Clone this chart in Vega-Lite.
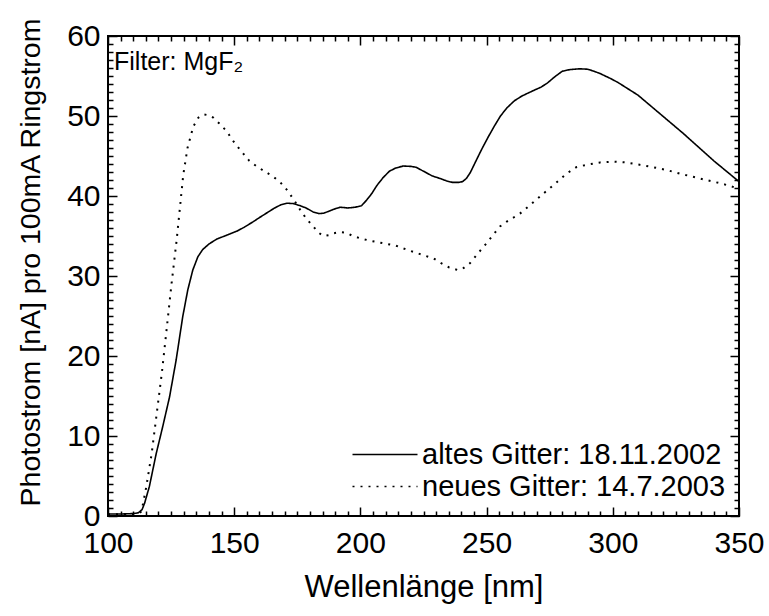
{
  "$schema": "https://vega.github.io/schema/vega-lite/v6.json",
  "autosize": "none",
  "padding": {"left": 108, "top": 36, "right": 30, "bottom": 100},
  "width": 631,
  "height": 480,
  "background": "white",
  "config": {
    "view": {"stroke": "black", "strokeWidth": 2},
    "font": "Liberation Sans",
    "axis": {"grid": false, "domain": false, "ticks": true, "tickColor": "black", "tickWidth": 1.5, "tickSize": 0, "labelColor": "black", "titleColor": "black", "labelFont": "Liberation Sans", "titleFont": "Liberation Sans", "titleFontWeight": "normal", "labelOverlap": false, "labelBound": false, "labelFlush": false},
    "legend": {"labelFont": "Liberation Sans"}
  },
  "title": {"text": "Filter: MgF₂", "anchor": "start", "orient": "top", "frame": "group", "offset": 0, "dx": 6, "dy": 78, "fontSize": 25, "fontWeight": "normal", "font": "Liberation Sans", "color": "black", "baseline": "alphabetic"},
  "data": {"values": [
    {"s": "altes Gitter: 18.11.2002", "x": 100, "y": 0.25},
    {"s": "altes Gitter: 18.11.2002", "x": 105, "y": 0.25},
    {"s": "altes Gitter: 18.11.2002", "x": 110, "y": 0.3},
    {"s": "altes Gitter: 18.11.2002", "x": 112, "y": 0.4},
    {"s": "altes Gitter: 18.11.2002", "x": 113.5, "y": 0.8},
    {"s": "altes Gitter: 18.11.2002", "x": 114.5, "y": 1.6},
    {"s": "altes Gitter: 18.11.2002", "x": 116.4, "y": 3.7},
    {"s": "altes Gitter: 18.11.2002", "x": 119.1, "y": 7.8},
    {"s": "altes Gitter: 18.11.2002", "x": 121.7, "y": 11.2},
    {"s": "altes Gitter: 18.11.2002", "x": 124.4, "y": 14.9},
    {"s": "altes Gitter: 18.11.2002", "x": 127, "y": 19.5},
    {"s": "altes Gitter: 18.11.2002", "x": 129.6, "y": 24.9},
    {"s": "altes Gitter: 18.11.2002", "x": 131.6, "y": 28.25},
    {"s": "altes Gitter: 18.11.2002", "x": 133.6, "y": 30.75},
    {"s": "altes Gitter: 18.11.2002", "x": 135.6, "y": 32.4},
    {"s": "altes Gitter: 18.11.2002", "x": 137.5, "y": 33.3},
    {"s": "altes Gitter: 18.11.2002", "x": 140, "y": 34},
    {"s": "altes Gitter: 18.11.2002", "x": 143, "y": 34.6},
    {"s": "altes Gitter: 18.11.2002", "x": 147, "y": 35.1},
    {"s": "altes Gitter: 18.11.2002", "x": 151, "y": 35.6},
    {"s": "altes Gitter: 18.11.2002", "x": 154, "y": 36.1},
    {"s": "altes Gitter: 18.11.2002", "x": 157.6, "y": 36.8},
    {"s": "altes Gitter: 18.11.2002", "x": 160, "y": 37.3},
    {"s": "altes Gitter: 18.11.2002", "x": 163, "y": 37.9},
    {"s": "altes Gitter: 18.11.2002", "x": 166, "y": 38.5},
    {"s": "altes Gitter: 18.11.2002", "x": 168.5, "y": 38.9},
    {"s": "altes Gitter: 18.11.2002", "x": 171, "y": 39.1},
    {"s": "altes Gitter: 18.11.2002", "x": 173.5, "y": 39.05},
    {"s": "altes Gitter: 18.11.2002", "x": 176, "y": 38.8},
    {"s": "altes Gitter: 18.11.2002", "x": 178.5, "y": 38.5},
    {"s": "altes Gitter: 18.11.2002", "x": 181.3, "y": 38.0},
    {"s": "altes Gitter: 18.11.2002", "x": 183.5, "y": 37.8},
    {"s": "altes Gitter: 18.11.2002", "x": 185.5, "y": 37.85},
    {"s": "altes Gitter: 18.11.2002", "x": 187.5, "y": 38.1},
    {"s": "altes Gitter: 18.11.2002", "x": 189.5, "y": 38.35},
    {"s": "altes Gitter: 18.11.2002", "x": 192, "y": 38.6},
    {"s": "altes Gitter: 18.11.2002", "x": 195, "y": 38.5},
    {"s": "altes Gitter: 18.11.2002", "x": 198, "y": 38.6},
    {"s": "altes Gitter: 18.11.2002", "x": 200.5, "y": 38.8},
    {"s": "altes Gitter: 18.11.2002", "x": 202.5, "y": 39.5},
    {"s": "altes Gitter: 18.11.2002", "x": 204.5, "y": 40.3},
    {"s": "altes Gitter: 18.11.2002", "x": 206.5, "y": 41.3},
    {"s": "altes Gitter: 18.11.2002", "x": 209, "y": 42.3},
    {"s": "altes Gitter: 18.11.2002", "x": 211.5, "y": 43.1},
    {"s": "altes Gitter: 18.11.2002", "x": 214, "y": 43.5},
    {"s": "altes Gitter: 18.11.2002", "x": 217, "y": 43.75},
    {"s": "altes Gitter: 18.11.2002", "x": 220, "y": 43.7},
    {"s": "altes Gitter: 18.11.2002", "x": 222, "y": 43.6},
    {"s": "altes Gitter: 18.11.2002", "x": 225, "y": 43.1},
    {"s": "altes Gitter: 18.11.2002", "x": 228.5, "y": 42.5},
    {"s": "altes Gitter: 18.11.2002", "x": 231.5, "y": 42.2},
    {"s": "altes Gitter: 18.11.2002", "x": 234, "y": 41.9},
    {"s": "altes Gitter: 18.11.2002", "x": 236.5, "y": 41.7},
    {"s": "altes Gitter: 18.11.2002", "x": 239, "y": 41.7},
    {"s": "altes Gitter: 18.11.2002", "x": 240.5, "y": 41.8},
    {"s": "altes Gitter: 18.11.2002", "x": 242, "y": 42.2},
    {"s": "altes Gitter: 18.11.2002", "x": 243.5, "y": 42.9},
    {"s": "altes Gitter: 18.11.2002", "x": 245.5, "y": 44.2},
    {"s": "altes Gitter: 18.11.2002", "x": 248, "y": 45.8},
    {"s": "altes Gitter: 18.11.2002", "x": 250.5, "y": 47.3},
    {"s": "altes Gitter: 18.11.2002", "x": 253, "y": 48.7},
    {"s": "altes Gitter: 18.11.2002", "x": 255.5, "y": 50.0},
    {"s": "altes Gitter: 18.11.2002", "x": 258, "y": 51.0},
    {"s": "altes Gitter: 18.11.2002", "x": 261, "y": 51.9},
    {"s": "altes Gitter: 18.11.2002", "x": 264, "y": 52.5},
    {"s": "altes Gitter: 18.11.2002", "x": 268, "y": 53.1},
    {"s": "altes Gitter: 18.11.2002", "x": 271.5, "y": 53.6},
    {"s": "altes Gitter: 18.11.2002", "x": 274, "y": 54.1},
    {"s": "altes Gitter: 18.11.2002", "x": 277, "y": 54.9},
    {"s": "altes Gitter: 18.11.2002", "x": 280, "y": 55.6},
    {"s": "altes Gitter: 18.11.2002", "x": 283, "y": 55.8},
    {"s": "altes Gitter: 18.11.2002", "x": 287, "y": 55.9},
    {"s": "altes Gitter: 18.11.2002", "x": 290, "y": 55.85},
    {"s": "altes Gitter: 18.11.2002", "x": 292.5, "y": 55.6},
    {"s": "altes Gitter: 18.11.2002", "x": 295, "y": 55.3},
    {"s": "altes Gitter: 18.11.2002", "x": 299, "y": 54.7},
    {"s": "altes Gitter: 18.11.2002", "x": 302, "y": 54.2},
    {"s": "altes Gitter: 18.11.2002", "x": 305.5, "y": 53.5},
    {"s": "altes Gitter: 18.11.2002", "x": 310, "y": 52.6},
    {"s": "altes Gitter: 18.11.2002", "x": 316, "y": 51.0},
    {"s": "altes Gitter: 18.11.2002", "x": 322, "y": 49.4},
    {"s": "altes Gitter: 18.11.2002", "x": 328, "y": 47.8},
    {"s": "altes Gitter: 18.11.2002", "x": 334, "y": 46.1},
    {"s": "altes Gitter: 18.11.2002", "x": 340, "y": 44.4},
    {"s": "altes Gitter: 18.11.2002", "x": 345, "y": 43.1},
    {"s": "altes Gitter: 18.11.2002", "x": 350, "y": 41.8},
    {"s": "neues Gitter: 14.7.2003", "x": 100, "y": 0.2},
    {"s": "neues Gitter: 14.7.2003", "x": 110, "y": 0.25},
    {"s": "neues Gitter: 14.7.2003", "x": 112.5, "y": 0.4},
    {"s": "neues Gitter: 14.7.2003", "x": 113.3, "y": 0.6},
    {"s": "neues Gitter: 14.7.2003", "x": 115.2, "y": 3.7},
    {"s": "neues Gitter: 14.7.2003", "x": 117.3, "y": 7.8},
    {"s": "neues Gitter: 14.7.2003", "x": 119.3, "y": 12.8},
    {"s": "neues Gitter: 14.7.2003", "x": 121.3, "y": 17.8},
    {"s": "neues Gitter: 14.7.2003", "x": 123.2, "y": 23.25},
    {"s": "neues Gitter: 14.7.2003", "x": 125.2, "y": 29.1},
    {"s": "neues Gitter: 14.7.2003", "x": 127.2, "y": 34.5},
    {"s": "neues Gitter: 14.7.2003", "x": 129.8, "y": 42.6},
    {"s": "neues Gitter: 14.7.2003", "x": 131.5, "y": 46.0},
    {"s": "neues Gitter: 14.7.2003", "x": 133.8, "y": 48.7},
    {"s": "neues Gitter: 14.7.2003", "x": 135.8, "y": 49.8},
    {"s": "neues Gitter: 14.7.2003", "x": 137.8, "y": 50.2},
    {"s": "neues Gitter: 14.7.2003", "x": 139.8, "y": 50.1},
    {"s": "neues Gitter: 14.7.2003", "x": 141.7, "y": 49.8},
    {"s": "neues Gitter: 14.7.2003", "x": 144, "y": 49.1},
    {"s": "neues Gitter: 14.7.2003", "x": 147, "y": 48.1},
    {"s": "neues Gitter: 14.7.2003", "x": 150, "y": 46.7},
    {"s": "neues Gitter: 14.7.2003", "x": 153.6, "y": 45.3},
    {"s": "neues Gitter: 14.7.2003", "x": 156, "y": 44.4},
    {"s": "neues Gitter: 14.7.2003", "x": 158.9, "y": 43.7},
    {"s": "neues Gitter: 14.7.2003", "x": 162, "y": 43.1},
    {"s": "neues Gitter: 14.7.2003", "x": 165.5, "y": 42.4},
    {"s": "neues Gitter: 14.7.2003", "x": 168, "y": 41.8},
    {"s": "neues Gitter: 14.7.2003", "x": 170.8, "y": 40.8},
    {"s": "neues Gitter: 14.7.2003", "x": 173.5, "y": 39.6},
    {"s": "neues Gitter: 14.7.2003", "x": 176.1, "y": 38.3},
    {"s": "neues Gitter: 14.7.2003", "x": 178.5, "y": 37.2},
    {"s": "neues Gitter: 14.7.2003", "x": 181.3, "y": 36.2},
    {"s": "neues Gitter: 14.7.2003", "x": 183.5, "y": 35.4},
    {"s": "neues Gitter: 14.7.2003", "x": 185.3, "y": 35.0},
    {"s": "neues Gitter: 14.7.2003", "x": 187.5, "y": 35.1},
    {"s": "neues Gitter: 14.7.2003", "x": 189.5, "y": 35.35},
    {"s": "neues Gitter: 14.7.2003", "x": 192, "y": 35.5},
    {"s": "neues Gitter: 14.7.2003", "x": 194.5, "y": 35.4},
    {"s": "neues Gitter: 14.7.2003", "x": 197, "y": 35.0},
    {"s": "neues Gitter: 14.7.2003", "x": 200, "y": 34.7},
    {"s": "neues Gitter: 14.7.2003", "x": 204, "y": 34.4},
    {"s": "neues Gitter: 14.7.2003", "x": 209, "y": 34.1},
    {"s": "neues Gitter: 14.7.2003", "x": 214, "y": 33.8},
    {"s": "neues Gitter: 14.7.2003", "x": 218.3, "y": 33.3},
    {"s": "neues Gitter: 14.7.2003", "x": 222, "y": 32.9},
    {"s": "neues Gitter: 14.7.2003", "x": 226, "y": 32.5},
    {"s": "neues Gitter: 14.7.2003", "x": 229, "y": 32.2},
    {"s": "neues Gitter: 14.7.2003", "x": 232, "y": 31.6},
    {"s": "neues Gitter: 14.7.2003", "x": 235, "y": 31.1},
    {"s": "neues Gitter: 14.7.2003", "x": 238.5, "y": 30.75},
    {"s": "neues Gitter: 14.7.2003", "x": 240.5, "y": 30.9},
    {"s": "neues Gitter: 14.7.2003", "x": 243.4, "y": 31.6},
    {"s": "neues Gitter: 14.7.2003", "x": 246.5, "y": 32.8},
    {"s": "neues Gitter: 14.7.2003", "x": 250, "y": 34.1},
    {"s": "neues Gitter: 14.7.2003", "x": 253, "y": 35.3},
    {"s": "neues Gitter: 14.7.2003", "x": 255.3, "y": 36.2},
    {"s": "neues Gitter: 14.7.2003", "x": 258, "y": 36.8},
    {"s": "neues Gitter: 14.7.2003", "x": 263.2, "y": 37.8},
    {"s": "neues Gitter: 14.7.2003", "x": 267, "y": 38.8},
    {"s": "neues Gitter: 14.7.2003", "x": 272.5, "y": 40.3},
    {"s": "neues Gitter: 14.7.2003", "x": 277, "y": 41.5},
    {"s": "neues Gitter: 14.7.2003", "x": 281.7, "y": 42.8},
    {"s": "neues Gitter: 14.7.2003", "x": 285.5, "y": 43.6},
    {"s": "neues Gitter: 14.7.2003", "x": 289.6, "y": 43.9},
    {"s": "neues Gitter: 14.7.2003", "x": 295, "y": 44.2},
    {"s": "neues Gitter: 14.7.2003", "x": 300.2, "y": 44.3},
    {"s": "neues Gitter: 14.7.2003", "x": 305, "y": 44.2},
    {"s": "neues Gitter: 14.7.2003", "x": 310.7, "y": 43.9},
    {"s": "neues Gitter: 14.7.2003", "x": 316, "y": 43.6},
    {"s": "neues Gitter: 14.7.2003", "x": 321.3, "y": 43.25},
    {"s": "neues Gitter: 14.7.2003", "x": 326.5, "y": 42.8},
    {"s": "neues Gitter: 14.7.2003", "x": 331.8, "y": 42.4},
    {"s": "neues Gitter: 14.7.2003", "x": 337, "y": 42.0},
    {"s": "neues Gitter: 14.7.2003", "x": 342.4, "y": 41.6},
    {"s": "neues Gitter: 14.7.2003", "x": 346, "y": 41.3},
    {"s": "neues Gitter: 14.7.2003", "x": 350, "y": 40.9}
  ]},
  "resolve": {"axis": {"x": "independent", "y": "independent"}},
  "layer": [
    {
      "transform": [{"filter": "datum.s === 'altes Gitter: 18.11.2002'"}],
      "mark": {"type": "line", "color": "black", "strokeWidth": 1.6, "clip": true},
      "encoding": {
        "x": {"field": "x", "type": "quantitative", "scale": {"domain": [100, 350], "nice": false, "zero": false},
          "axis": {"orient": "bottom", "title": "Wellenlänge [nm]", "titleFontSize": 31, "titlePadding": 14,
            "values": [100,105,110,115,120,125,130,135,140,145,150,155,160,165,170,175,180,185,190,195,200,205,210,215,220,225,230,235,240,245,250,255,260,265,270,275,280,285,290,295,300,305,310,315,320,325,330,335,340,345,350],
            "labelExpr": "datum.value % 50 === 0 ? datum.label : ''",
            "encoding": {"ticks": {"y2": {"condition": {"test": "datum.value % 50 === 0", "value": -9}, "value": -5}}},
            "labelFontSize": 30, "labelPadding": 12}},
        "y": {"field": "y", "type": "quantitative", "scale": {"domain": [0, 60], "nice": false},
          "axis": {"orient": "left", "title": "Photostrom [nA] pro 100mA Ringstrom", "titleFontSize": 28.5, "titlePadding": 21, "titleY": 226,
            "values": [0,1,2,3,4,5,6,7,8,9,10,11,12,13,14,15,16,17,18,19,20,21,22,23,24,25,26,27,28,29,30,31,32,33,34,35,36,37,38,39,40,41,42,43,44,45,46,47,48,49,50,51,52,53,54,55,56,57,58,59,60],
            "labelExpr": "datum.value % 10 === 0 ? datum.label : ''",
            "encoding": {"ticks": {"x2": {"condition": {"test": "datum.value % 10 === 0", "value": 9}, "value": 5}}},
            "labelFontSize": 30, "labelPadding": 8}},
        "strokeDash": {"field": "s", "type": "nominal",
          "scale": {"domain": ["altes Gitter: 18.11.2002", "neues Gitter: 14.7.2003"], "range": [[1, 0], [2, 6]]},
          "legend": {"title": null, "orient": "none", "legendX": 262.5, "legendY": 404, "symbolType": "M-3.25,0H3.25", "symbolSize": 400, "symbolStrokeColor": "black", "symbolStrokeWidth": 1.6, "labelFontSize": 29, "labelColor": "black", "labelLimit": 0, "rowPadding": 2, "labelOffset": 22.5}}
      }
    },
    {
      "transform": [{"filter": "datum.s === 'neues Gitter: 14.7.2003'"}],
      "mark": {"type": "line", "color": "black", "strokeWidth": 2, "clip": true},
      "encoding": {
        "x": {"field": "x", "type": "quantitative", "scale": {"domain": [100, 350], "nice": false, "zero": false},
          "axis": {"orient": "top", "title": null, "labels": false,
            "values": [100,105,110,115,120,125,130,135,140,145,150,155,160,165,170,175,180,185,190,195,200,205,210,215,220,225,230,235,240,245,250,255,260,265,270,275,280,285,290,295,300,305,310,315,320,325,330,335,340,345,350],
            "encoding": {"ticks": {"y2": {"condition": {"test": "datum.value % 50 === 0", "value": 9}, "value": 5}}}}},
        "y": {"field": "y", "type": "quantitative", "scale": {"domain": [0, 60], "nice": false},
          "axis": {"orient": "right", "title": null, "labels": false,
            "values": [0,1,2,3,4,5,6,7,8,9,10,11,12,13,14,15,16,17,18,19,20,21,22,23,24,25,26,27,28,29,30,31,32,33,34,35,36,37,38,39,40,41,42,43,44,45,46,47,48,49,50,51,52,53,54,55,56,57,58,59,60],
            "encoding": {"ticks": {"x2": {"condition": {"test": "datum.value % 10 === 0", "value": -9}, "value": -5}}}}},
        "strokeDash": {"field": "s", "type": "nominal",
          "scale": {"domain": ["altes Gitter: 18.11.2002", "neues Gitter: 14.7.2003"], "range": [[1, 0], [2, 6]]}}
      }
    }
  ]
}
